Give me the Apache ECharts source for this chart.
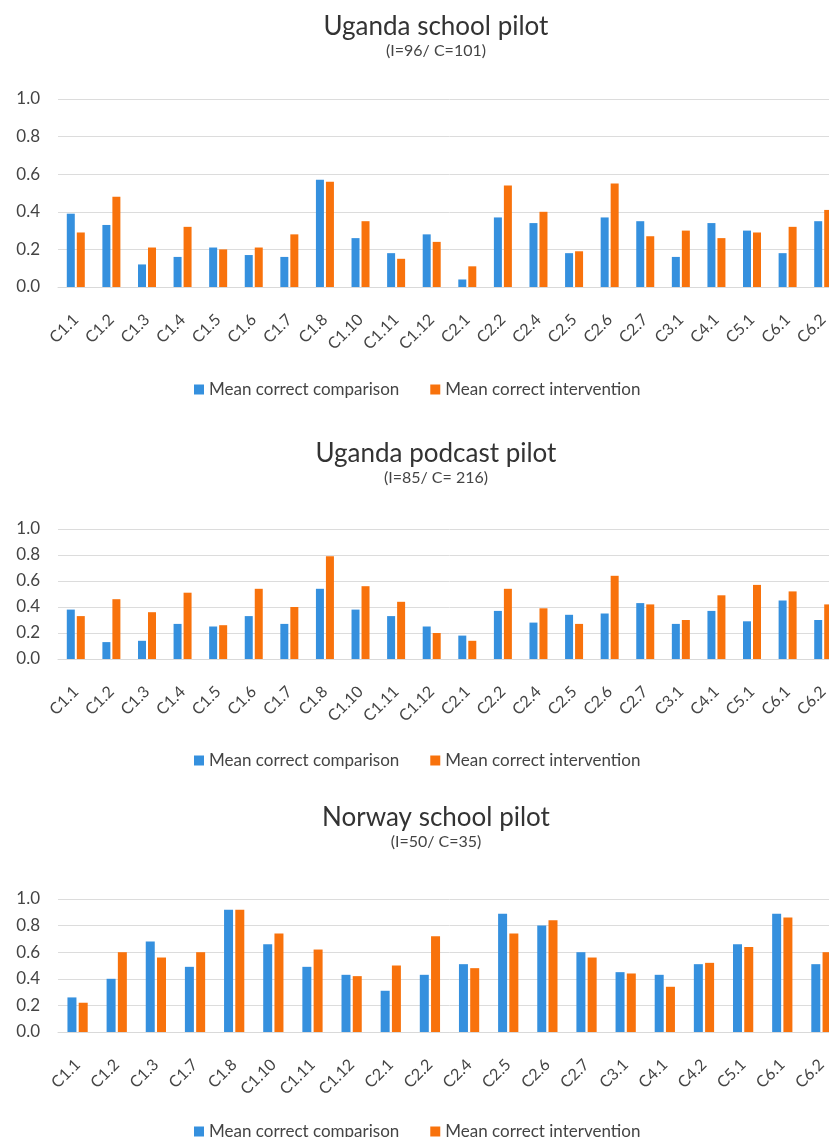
<!DOCTYPE html>
<html>
<head>
<meta charset="utf-8">
<script src="https://cdn.jsdelivr.net/npm/echarts@6/dist/echarts.min.js"></script>
<style>
  html, body { margin: 0; padding: 0; background: #fff; overflow: hidden; }
  /* canvas a bit wider than the window so the last bars are cut off like in the original */
  #main { width: 845px; height: 1137px; }
</style>
</head>
<body>
<div id="main"></div>
<script>
// categories per pilot
var ugSchoolCats = ['C1.1', 'C1.2', 'C1.3', 'C1.4', 'C1.5', 'C1.6', 'C1.7', 'C1.8', 'C1.10', 'C1.11', 'C1.12',
    'C2.1', 'C2.2', 'C2.4', 'C2.5', 'C2.6', 'C2.7', 'C3.1', 'C4.1', 'C5.1', 'C6.1', 'C6.2'];
var ugPodcastCats = ugSchoolCats.slice();
var noSchoolCats = ['C1.1', 'C1.2', 'C1.3', 'C1.7', 'C1.8', 'C1.10', 'C1.11', 'C1.12', 'C2.1', 'C2.2',
    'C2.4', 'C2.5', 'C2.6', 'C2.7', 'C3.1', 'C4.1', 'C4.2', 'C5.1', 'C6.1', 'C6.2'];

// values
var ugSchoolComp = [0.39, 0.33, 0.12, 0.16, 0.21, 0.17, 0.16, 0.57, 0.26, 0.18, 0.28,
    0.04, 0.37, 0.34, 0.18, 0.37, 0.35, 0.16, 0.34, 0.30, 0.18, 0.35];
var ugSchoolInt = [0.29, 0.48, 0.21, 0.32, 0.20, 0.21, 0.28, 0.56, 0.35, 0.15, 0.24,
    0.11, 0.54, 0.40, 0.19, 0.55, 0.27, 0.30, 0.26, 0.29, 0.32, 0.41];

var ugPodcastComp = [0.38, 0.13, 0.14, 0.27, 0.25, 0.33, 0.27, 0.54, 0.38, 0.33, 0.25,
    0.18, 0.37, 0.28, 0.34, 0.35, 0.43, 0.27, 0.37, 0.29, 0.45, 0.30];
var ugPodcastInt = [0.33, 0.46, 0.36, 0.51, 0.26, 0.54, 0.40, 0.79, 0.56, 0.44, 0.20,
    0.14, 0.54, 0.39, 0.27, 0.64, 0.42, 0.30, 0.49, 0.57, 0.52, 0.42];

var noSchoolComp = [0.26, 0.40, 0.68, 0.49, 0.92, 0.66, 0.49, 0.43, 0.31, 0.43,
    0.51, 0.89, 0.80, 0.60, 0.45, 0.43, 0.51, 0.66, 0.89, 0.51];
var noSchoolInt = [0.22, 0.60, 0.56, 0.60, 0.92, 0.74, 0.62, 0.42, 0.50, 0.72,
    0.48, 0.74, 0.84, 0.56, 0.44, 0.34, 0.52, 0.64, 0.86, 0.60];

var yTicks = ['0.0', '0.2', '0.4', '0.6', '0.8', '1.0'];

var font = 'Lato, "Open Sans", sans-serif';
var blue = '#3590DE';
var orange = '#F8720C';
var names = ['Mean correct comparison', 'Mean correct intervention'];

var panels = [
    { title: 'Uganda school pilot', sub: '(I=96/ C=101)', cats: ugSchoolCats, comp: ugSchoolComp, int: ugSchoolInt,
      titleTop: 9, gridTop: 99, gridH: 188, legendTop: 376, barW: 8 },
    { title: 'Uganda podcast pilot', sub: '(I=85/ C= 216)', cats: ugPodcastCats, comp: ugPodcastComp, int: ugPodcastInt,
      titleTop: 436, gridTop: 529, gridH: 130, legendTop: 747, barW: 8 },
    { title: 'Norway school pilot', sub: '(I=50/ C=35)', cats: noSchoolCats, comp: noSchoolComp, int: noSchoolInt,
      titleTop: 800, gridTop: 899, gridH: 133, legendTop: 1118, barW: 9 }
];

var titles = [], grids = [], xAxes = [], yAxes = [], legends = [], series = [];
panels.forEach(function (p, i) {
    titles.push({
        text: p.title,
        subtext: p.sub,
        left: 431,
        top: p.titleTop,
        textAlign: 'center',
        itemGap: 3,
        textStyle: { fontFamily: font, fontSize: 26, fontWeight: 'normal', color: '#333' },
        subtextStyle: { fontFamily: font, fontSize: 16, color: '#444' }
    });
    grids.push({ left: 58, right: 4, top: p.gridTop, height: p.gridH });
    xAxes.push({
        type: 'category',
        gridIndex: i,
        data: p.cats,
        axisTick: { show: false },
        axisLine: { lineStyle: { color: '#d9d9d9' } },
        axisLabel: { rotate: 45, fontFamily: font, fontSize: 16, color: '#444', margin: 30, interval: 0 }
    });
    yAxes.push({
        type: 'value',
        gridIndex: i,
        min: 0,
        max: 1,
        interval: 0.2,
        axisLine: { show: false },
        axisTick: { show: false },
        splitLine: { lineStyle: { color: '#dcdcdc' } },
        axisLabel: {
            fontFamily: font, fontSize: 17, color: '#444', margin: 18,
            formatter: function (v) { return yTicks[Math.round(v * 5)]; }
        }
    });
    legends.push({
        data: names,
        top: p.legendTop,
        left: 189,
        icon: 'rect',
        itemWidth: 10,
        itemHeight: 10,
        itemGap: 31,
        textStyle: { fontFamily: font, fontSize: 17, color: '#444' }
    });
    series.push({
        name: names[0], type: 'bar', xAxisIndex: i, yAxisIndex: i,
        data: p.comp, barWidth: p.barW, barGap: '25%',
        itemStyle: { color: blue }
    });
    series.push({
        name: names[1], type: 'bar', xAxisIndex: i, yAxisIndex: i,
        data: p.int, barWidth: p.barW, barGap: '25%',
        itemStyle: { color: orange }
    });
});

var chart = echarts.init(document.getElementById('main'));
chart.setOption({
    backgroundColor: '#fff',
    animation: false,
    title: titles,
    grid: grids,
    xAxis: xAxes,
    yAxis: yAxes,
    legend: legends,
    series: series
});
</script>
</body>
</html>
